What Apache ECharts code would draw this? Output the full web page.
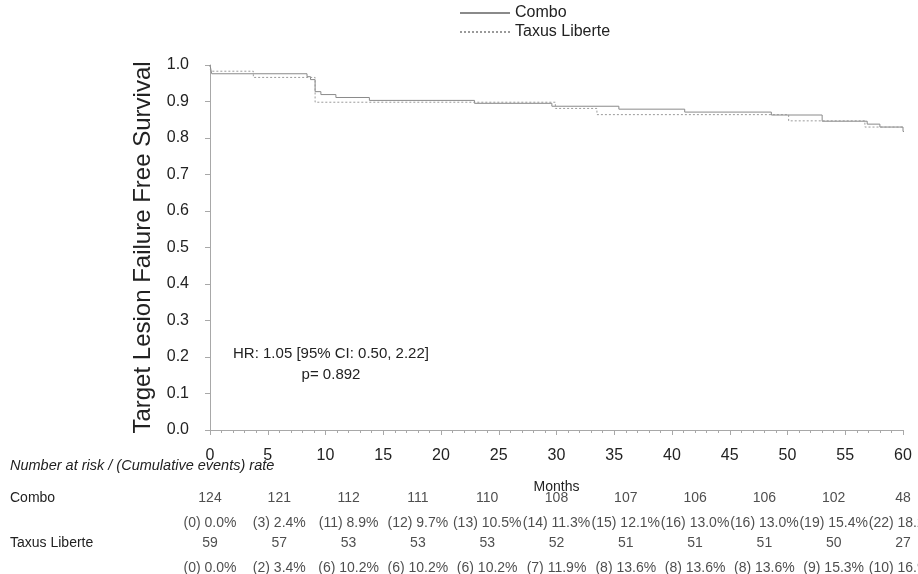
<!DOCTYPE html>
<html><head><meta charset="utf-8">
<script src="https://cdn.jsdelivr.net/npm/echarts@6/dist/echarts.min.js"></script>
<style>html,body{margin:0;padding:0;background:#fff}#c{width:918px;height:574px}</style>
</head><body><div id="c"></div>
<script>
// Kaplan-Meier step data (months, survival)
const comboTime = [0, 0.15, 8.4, 8.7, 9.1, 9.6, 10.9, 13.8, 22.9, 29.6, 35.4, 41.1, 48.6, 53.0, 56.9, 58.0, 60.0, 60.5];
const comboSurv = [1.0, 0.976, 0.968, 0.960, 0.927, 0.919, 0.911, 0.903, 0.895, 0.887, 0.879, 0.871, 0.863, 0.846, 0.838, 0.830, 0.818, 0.818];
const taxusTime = [0, 0.05, 3.75, 9.1, 29.9, 33.5, 50.1, 56.7, 60.5];
const taxusSurv = [1.0, 0.983, 0.966, 0.898, 0.881, 0.864, 0.847, 0.830, 0.830];

// Risk table
const riskTimes = [0, 6, 12, 18, 24, 30, 36, 42, 48, 54, 60];
const comboAtRisk = [124, 121, 112, 111, 110, 108, 107, 106, 106, 102, 48];
const comboEvents = [0, 3, 11, 12, 13, 14, 15, 16, 16, 19, 22];
const comboRates = ['0.0', '2.4', '8.9', '9.7', '10.5', '11.3', '12.1', '13.0', '13.0', '15.4', '18.2'];
const taxusAtRisk = [59, 57, 53, 53, 53, 52, 51, 51, 51, 50, 27];
const taxusEvents = [0, 2, 6, 6, 6, 7, 8, 8, 8, 9, 10];
const taxusRates = ['0.0', '3.4', '10.2', '10.2', '10.2', '11.9', '13.6', '13.6', '13.6', '15.3', '16.9'];

const seriesNames = ['Combo', 'Taxus Liberte'];
const yTitle = 'Target Lesion Failure Free Survival';
const xTitle = 'Months';
const tableTitle = 'Number at risk / (Cumulative events) rate';
const hrText = 'HR: 1.05 [95% CI: 0.50, 2.22]';
const pText = 'p= 0.892';

const FONT = '"Liberation Sans", Arial, Helvetica, sans-serif';
const TXT = '#222';
const AX = '#a8a8a8';

function zip(a, b) { return a.map((v, i) => [v, b[i]]); }

// table layout: fine row grid (15 slots) so rows can sit at uneven spacing
const SLOTS = 15;
const slotKeys = Array.from({length: SLOTS}, (_, i) => 's' + i);
const ROW_COMBO_N = 0, ROW_COMBO_E = 5, ROW_TAXUS_N = 9, ROW_TAXUS_E = 14;
const slotLabels = {};
slotLabels[ROW_COMBO_N] = seriesNames[0];
slotLabels[ROW_TAXUS_N] = seriesNames[1];

const tableData = [];
riskTimes.forEach((t, i) => {
  tableData.push([t, slotKeys[ROW_COMBO_N], String(comboAtRisk[i])]);
  tableData.push([t, slotKeys[ROW_COMBO_E], '(' + comboEvents[i] + ') ' + comboRates[i] + '%']);
  tableData.push([t, slotKeys[ROW_TAXUS_N], String(taxusAtRisk[i])]);
  tableData.push([t, slotKeys[ROW_TAXUS_E], '(' + taxusEvents[i] + ') ' + taxusRates[i] + '%']);
});

const chart = echarts.init(document.getElementById('c'), null, {renderer: 'canvas'});
chart.setOption({
  animation: false,
  backgroundColor: '#fff',
  textStyle: {fontFamily: FONT},
  title: {
    text: tableTitle, left: 10, top: 458, padding: 0,
    textStyle: {fontSize: 14.5, fontStyle: 'italic', fontWeight: 'normal', color: TXT, fontFamily: FONT}
  },
  legend: {
    data: seriesNames, orient: 'vertical', left: 459, top: 5, padding: 0,
    itemWidth: 50, itemHeight: 14, itemGap: 3,
    itemStyle: {opacity: 0},
    textStyle: {fontSize: 16, color: TXT, fontFamily: FONT}
  },
  graphic: [{
    type: 'text', x: 331, y: 343, silent: true,
    style: {text: hrText + '\n' + pText, align: 'center', textAlign: 'center', verticalAlign: 'top',
      fontSize: 15, fontFamily: FONT, lineHeight: 21, fill: TXT}
  }],
  grid: [
    {left: 210, right: 15, top: 65, bottom: 144},
    {left: 210, right: 15, top: 495.5, height: 75}
  ],
  xAxis: [{
    type: 'value', min: 0, max: 60, interval: 5, offset: 5,
    name: xTitle, nameLocation: 'middle', nameGap: 45,
    nameTextStyle: {fontSize: 14, color: TXT, fontFamily: FONT},
    axisLine: {show: true, lineStyle: {color: AX, width: 1}},
    axisTick: {show: true, length: 5, lineStyle: {color: AX}},
    minorTick: {show: true, splitNumber: 5, length: 3, lineStyle: {color: AX}},
    splitLine: {show: false},
    axisLabel: {fontSize: 16, color: TXT, margin: 13, fontFamily: FONT}
  }, {
    type: 'value', gridIndex: 1, min: 0, max: 60, show: false
  }],
  yAxis: [{
    type: 'value', min: 0, max: 1, interval: 0.1, offset: 5,
    name: yTitle, nameLocation: 'middle', nameGap: 49,
    nameTextStyle: {fontSize: 24, color: TXT, fontFamily: FONT},
    axisLine: {show: true, lineStyle: {color: AX, width: 1}},
    axisTick: {show: true, length: 5, lineStyle: {color: AX}},
    splitLine: {show: false},
    axisLabel: {fontSize: 16, color: TXT, margin: 16, fontFamily: FONT, formatter: v => v.toFixed(1)}
  }, {
    type: 'category', gridIndex: 1, data: slotKeys, inverse: true,
    axisLine: {show: false}, axisTick: {show: false}, splitLine: {show: false},
    axisLabel: {interval: 0, hideOverlap: false, align: 'left', margin: 200, fontSize: 14,
      color: TXT, fontFamily: FONT, formatter: (v, i) => slotLabels[i] || ''}
  }],
  series: [{
    name: seriesNames[0], type: 'line', step: 'end', data: zip(comboTime, comboSurv),
    symbol: 'none', showSymbol: false, clip: false,
    lineStyle: {color: '#8a8a8a', width: 1, type: 'solid'}, itemStyle: {color: '#8a8a8a'}
  }, {
    name: seriesNames[1], type: 'line', step: 'end', data: zip(taxusTime, taxusSurv),
    symbol: 'none', showSymbol: false, clip: false,
    lineStyle: {color: '#9a9a9a', width: 1, type: [2, 2]}, itemStyle: {color: '#9a9a9a'}
  }, {
    type: 'scatter', xAxisIndex: 1, yAxisIndex: 1, data: tableData,
    symbolSize: 1, itemStyle: {color: 'rgba(0,0,0,0)'}, silent: true,
    label: {show: true, position: 'inside', fontSize: 14, color: TXT, fontFamily: FONT,
      formatter: p => p.value[2]}
  }]
});
</script></body></html>
